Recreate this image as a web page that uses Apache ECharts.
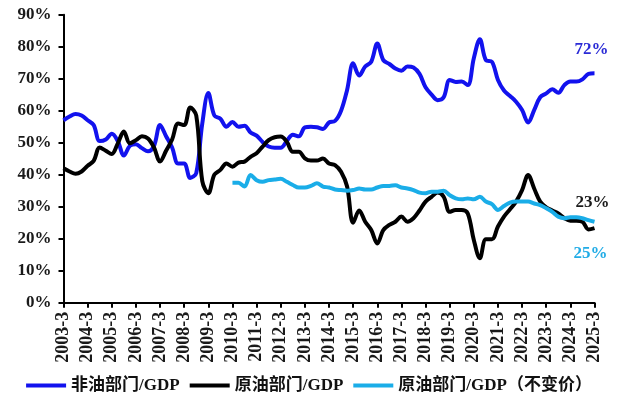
<!DOCTYPE html>
<html>
<head>
<meta charset="utf-8">
<script src="https://cdn.jsdelivr.net/npm/echarts@6/dist/echarts.min.js"></script>
<style>
html,body{margin:0;padding:0;background:#fff;}
#chart{width:618px;height:396px;}
</style>
</head>
<body>
<div id="chart"></div>
<script>
// Quarterly categories 2003-3 ... 2025-3
var years = [];
for (var y = 2003; y <= 2025; y++) years.push(y);
var months = [3, 6, 9, 12];
var categories = [];
years.forEach(function (yr) {
  months.forEach(function (m) {
    if (yr === 2025 && m > 3) return;
    categories.push(yr + '-' + m);
  });
});

var seriesNames = ['非油部门/GDP', '原油部门/GDP', '原油部门/GDP（不变价）'];

// 非油部门/GDP (%)
var nonOil = [
  57.0, 58.2, 59.0, 58.5, 57.0, 55.5, 50.5, 51.0, 52.8, 50.5,
  46.0, 49.0, 49.5, 48.3, 47.3, 49.0, 55.5, 52.0, 48.5, 43.5,
  43.5, 39.0, 40.5, 56.0, 65.5, 58.5, 57.5, 55.0, 56.5, 55.0,
  55.3, 53.2, 52.2, 50.2, 48.8, 48.4, 48.4, 50.5, 52.5, 52.0,
  54.8, 55.0, 54.8, 54.3, 56.3, 56.8, 60.0, 66.5, 74.8, 71.0,
  73.8, 75.3, 81.0, 75.8, 74.6, 73.2, 72.5, 73.8, 73.5, 71.5,
  67.3, 65.0, 63.3, 64.2, 69.6, 69.0, 69.1, 68.0, 76.4, 82.3,
  75.8, 75.3, 69.6, 66.3, 64.6, 62.8, 60.2, 56.3, 60.2, 64.2,
  65.4, 66.7, 65.6, 68.0, 69.1, 69.1, 69.8, 71.5, 71.7
];

// 原油部门/GDP (%)
var oil = [
  42.0, 41.0, 40.3, 41.0, 42.8, 44.3, 48.5, 47.5, 46.5, 49.8,
  53.5, 49.8, 50.8, 52.0, 51.3, 48.5, 44.1, 47.5, 51.0, 56.0,
  55.5, 61.0, 58.5, 38.0, 34.2, 40.0, 41.5, 43.5, 42.5, 43.8,
  44.1, 45.6, 46.7, 48.8, 50.8, 51.7, 51.9, 50.3, 47.2, 47.2,
  45.1, 44.4, 44.4, 45.1, 43.5, 43.0, 40.9, 36.3, 25.0, 28.8,
  25.3, 22.7, 18.5, 22.7, 24.3, 25.3, 26.9, 25.3, 26.4, 28.8,
  31.6, 33.1, 34.4, 33.1, 28.4, 29.0, 29.0, 27.9, 19.6, 13.9,
  19.8, 19.8, 23.8, 26.9, 29.2, 31.6, 35.2, 39.9, 35.7, 31.6,
  29.8, 28.8, 27.9, 26.4, 25.6, 25.6, 25.3, 22.9, 23.3
];

// 原油部门/GDP（不变价）(%) - starts 2010-3
var oilConst = [
  null, null, null, null, null, null, null, null, null, null,
  null, null, null, null, null, null, null, null, null, null,
  null, null, null, null, null, null, null, null, 37.5, 37.5,
  36.3, 39.9, 38.3, 37.8, 38.3, 38.5, 38.7, 37.8, 36.8, 36.0,
  36.0, 36.5, 37.3, 36.3, 36.0, 35.4, 35.2, 35.0, 35.2, 35.7,
  35.4, 35.4, 36.0, 36.5, 36.5, 36.7, 36.0, 35.7, 35.2, 34.4,
  34.2, 34.7, 34.7, 35.0, 33.6, 32.6, 32.3, 32.6, 32.3, 33.1,
  31.6, 30.8, 29.0, 30.2, 31.3, 31.6, 31.6, 31.6, 31.0, 30.5,
  29.5, 28.4, 26.9, 26.4, 26.7, 26.7, 26.4, 25.8, 25.3
];

var yTicks = [0, 10, 20, 30, 40, 50, 60, 70, 80, 90];

var colors = ['#1212EE', '#000000', '#1AADE8'];
var labelColors = ['#2A2AD6', '#1a1a1a', '#22ACE6'];
var endOffsets = [[-3, -24], [-2, -26], [-4, 32]];

var serifFont = "'Liberation Serif', 'Times New Roman', serif";
var mixFont = "'Liberation Serif', 'Noto Sans CJK SC', serif";

var allData = [nonOil, oil, oilConst];
var series = allData.map(function (arr, idx) {
  return {
    name: seriesNames[idx],
    type: 'line',
    data: arr,
    showSymbol: false,
    symbol: 'none',
    smooth: 0.35,
    connectNulls: false,
    lineStyle: { color: colors[idx], width: 4 },
    itemStyle: { color: colors[idx] },
    endLabel: {
      show: true,
      distance: 0,
      align: 'center',
      verticalAlign: 'middle',
      offset: endOffsets[idx],
      formatter: function (p) { return Math.round(p.value) + '%'; },
      color: labelColors[idx],
      fontFamily: serifFont,
      fontWeight: 'bold',
      fontSize: 17
    },
    emphasis: { disabled: true },
    animation: false
  };
});

var chart = echarts.init(document.getElementById('chart'), null, { renderer: 'canvas' });
chart.setOption({
  animation: false,
  backgroundColor: '#ffffff',
  grid: {
    left: 63.5,
    right: 23.5,
    top: 14.7,
    bottom: 93.3,
    containLabel: false,
    outerBoundsMode: 'none'
  },
  legend: {
    data: seriesNames.map(function (n) { return { name: n, icon: 'rect' }; }),
    left: 'center',
    top: 372,
    itemWidth: 40,
    itemHeight: 4,
    itemGap: 10,
    textStyle: {
      fontFamily: mixFont,
      fontWeight: 'bold',
      fontSize: 17,
      color: '#111'
    }
  },
  xAxis: {
    type: 'category',
    data: categories,
    boundaryGap: false,
    axisLine: { lineStyle: { color: '#000', width: 2 } },
    axisTick: { show: true, interval: 3, length: 5, lineStyle: { color: '#000', width: 2 } },
    axisLabel: {
      interval: 3,
      rotate: 90,
      margin: 9,
      fontFamily: serifFont,
      fontWeight: 'bold',
      fontSize: 18,
      color: '#1a1a1a'
    },
    splitLine: { show: false }
  },
  yAxis: {
    type: 'value',
    min: yTicks[0],
    max: yTicks[yTicks.length - 1],
    interval: 10,
    axisLine: { show: true, lineStyle: { color: '#000', width: 2 } },
    axisTick: { show: true, length: 5, lineStyle: { color: '#000', width: 2 } },
    axisLabel: {
      margin: 12,
      formatter: '{value}%',
      fontFamily: serifFont,
      fontWeight: 'bold',
      fontSize: 17,
      color: '#1a1a1a'
    },
    splitLine: { show: false }
  },
  series: series
});
</script>
</body>
</html>
